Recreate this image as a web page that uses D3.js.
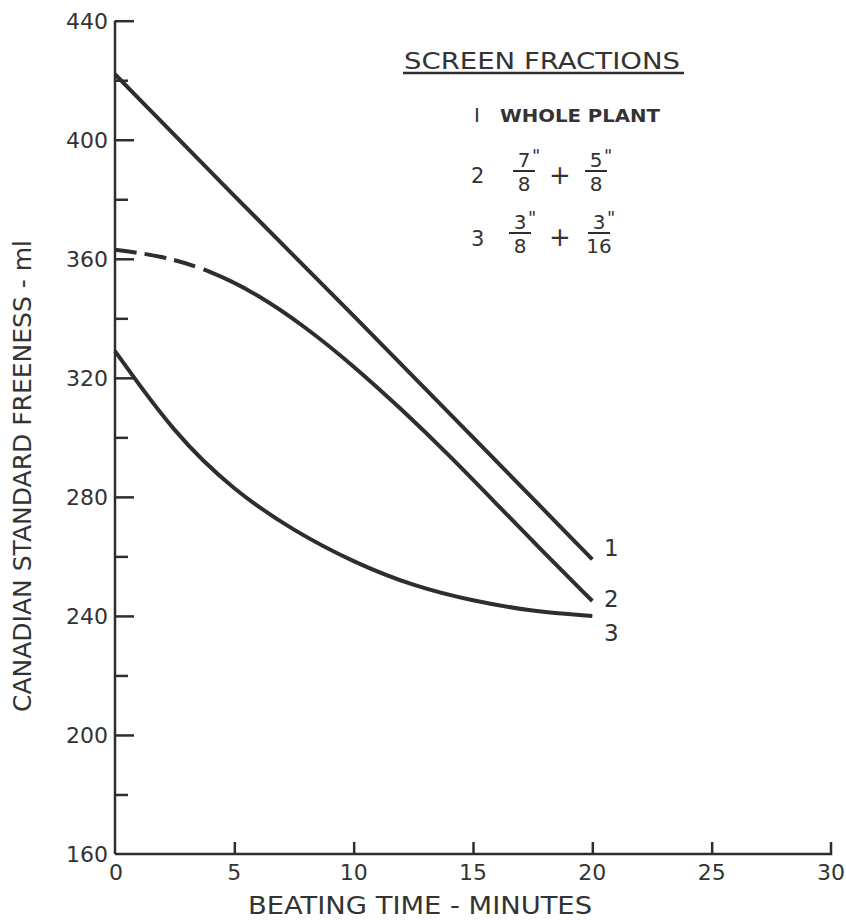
<!DOCTYPE html>
<html><head><meta charset="utf-8">
<script src="https://cdn.jsdelivr.net/npm/d3@7"></script>
<style>
body{margin:0;background:#fff;}
text{font-family:"DejaVu Sans",sans-serif;fill:#333;}
</style></head>
<body><svg id="c" width="846" height="920"></svg>
<script>
const xTicks=[0,5,10,15,20,25,30];
const yTicks=[160,200,240,280,320,360,400,440];
const yMinor=[180,220,260,300,340,380,420];
const s1x=[0,5,10,15,20];
const s1y=[422,381,341,300,259];
const s2x=[0,2,4,6,8,10,12,14,16,18,20];
const s2y=[363,361,356,348,337,324,309.5,294,277.5,261,245];
const s3x=[0,2.5,5,7.5,10,12.5,15,17.5,20];
const s3y=[329,301,282,268.5,258,250,245,241.5,240];
const endLabels=["1","2","3"];

const svg=d3.select("#c");
const x=d3.scaleLinear().domain([0,30]).range([115,831]);
const y=d3.scaleLinear().domain([160,440]).range([854,20.7]);
const ink="#2e2e2e";

// axes
const xAx=svg.append("g").attr("transform","translate(0,854)")
  .call(d3.axisTop(x).tickValues(xTicks).tickSize(12).tickFormat(""));
xAx.select(".domain").attr("stroke",ink).attr("stroke-width",2.5).attr("d","M115,0H831V-12");
xAx.selectAll(".tick line").attr("stroke",ink).attr("stroke-width",2.5);
xAx.selectAll(".tick").filter(d=>d===0||d===30).select("line").remove();

const yAx=svg.append("g").attr("transform","translate(115,0)")
  .call(d3.axisRight(y).tickValues(yTicks).tickSize(19).tickFormat(""));
yAx.select(".domain").attr("stroke",ink).attr("stroke-width",2.5).attr("d","M0,20.7V854");
yAx.selectAll(".tick line").attr("stroke",ink).attr("stroke-width",2.5);
yAx.selectAll(".tick").filter(d=>d===160).select("line").remove();
const yAm=svg.append("g").attr("transform","translate(115,0)")
  .call(d3.axisRight(y).tickValues(yMinor).tickSize(13).tickFormat(""));
yAm.select(".domain").remove();
yAm.selectAll(".tick line").attr("stroke",ink).attr("stroke-width",2.5);

// tick labels
svg.selectAll(".yl").data(yTicks).enter().append("text")
  .attr("x",108).attr("y",d=>y(d)+8).attr("text-anchor","end")
  .attr("font-size",22).text(d=>d);
svg.selectAll(".xl").data(xTicks).enter().append("text")
  .attr("x",d=>x(d)+(d===0?1:0)).attr("y",880).attr("text-anchor","middle")
  .attr("font-size",22).text(d=>d);

// titles
svg.append("text").attr("x",420).attr("y",914).attr("text-anchor","middle")
  .attr("font-size",25).attr("textLength",344).attr("lengthAdjust","spacingAndGlyphs")
  .text("BEATING TIME - MINUTES");
svg.append("text").attr("transform","translate(31,476) rotate(-90)")
  .attr("text-anchor","middle").attr("font-size",25).attr("textLength",472)
  .attr("lengthAdjust","spacingAndGlyphs")
  .text("CANADIAN STANDARD FREENESS - ml");

// curves
const line=d3.line().x(d=>x(d[0])).y(d=>y(d[1])).curve(d3.curveBasis);
const series=[d3.zip(s1x,s1y),d3.zip(s2x,s2y),d3.zip(s3x,s3y)];
series.forEach((s,i)=>{
  const p=svg.append("path").attr("d",line(s)).attr("fill","none")
    .attr("stroke",ink).attr("stroke-width",4).attr("stroke-linecap","butt");
  if(i===1){p.attr("stroke-dasharray","22,8,22,8,22,9,3000");}
});
// end labels
const endPos=[[604,556],[604,607],[604,641]];
endLabels.forEach((t,i)=>{
  svg.append("text").attr("x",endPos[i][0]).attr("y",endPos[i][1]).attr("font-size",23).text(t);
});

// legend
svg.append("text").attr("x",404).attr("y",69).attr("font-size",23).attr("textLength",276)
  .attr("lengthAdjust","spacingAndGlyphs").text("SCREEN FRACTIONS");
svg.append("line").attr("x1",403).attr("x2",684).attr("y1",73).attr("y2",73).attr("stroke",ink).attr("stroke-width",2.5);
svg.append("text").attr("x",474).attr("y",122).attr("font-size",20).text("I");
svg.append("text").attr("x",500).attr("y",122).attr("font-size",17).attr("font-weight","bold")
  .attr("textLength",160).attr("lengthAdjust","spacingAndGlyphs").text("WHOLE PLANT");
function frac(cx,cy,num,den){
  svg.append("text").attr("x",cx).attr("y",cy-4).attr("text-anchor","middle").attr("font-size",20).text(num);
  svg.append("text").attr("x",cx+8).attr("y",cy-9).attr("font-size",18).text('"');
  svg.append("line").attr("x1",cx-11).attr("x2",cx+11).attr("y1",cy).attr("y2",cy).attr("stroke",ink).attr("stroke-width",2);
  svg.append("text").attr("x",cx).attr("y",cy+20).attr("text-anchor","middle").attr("font-size",20).text(den);
}
svg.append("text").attr("x",471).attr("y",183).attr("font-size",21).text("2");
frac(524,171,"7","8");
svg.append("text").attr("x",560).attr("y",184).attr("text-anchor","middle").attr("font-size",26).text("+");
frac(596,171,"5","8");
svg.append("text").attr("x",471).attr("y",246).attr("font-size",21).text("3");
frac(520,233,"3","8");
svg.append("text").attr("x",560).attr("y",246).attr("text-anchor","middle").attr("font-size",26).text("+");
frac(599,233,"3","16");
</script></body></html>
